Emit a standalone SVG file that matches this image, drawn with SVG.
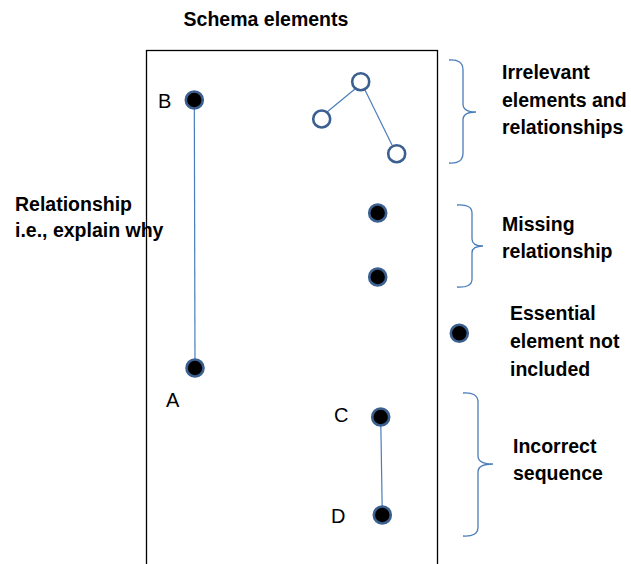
<svg xmlns="http://www.w3.org/2000/svg" width="631" height="564" viewBox="0 0 631 564">
<style>
.t{font-family:"Liberation Sans",Arial,sans-serif;font-weight:bold;font-size:19.5px;fill:#000}
.l{font-family:"Liberation Sans",Arial,sans-serif;font-size:20px;fill:#000}
.n{fill:#000;stroke:#3b6090;stroke-width:2.6}
.o{fill:#fff;stroke:#3b6090;stroke-width:2.6}
.e{stroke:#4a7ebb;stroke-width:1.2;fill:none}
.b{stroke:#4a7ebb;stroke-width:1.3;fill:none}
</style>
<rect width="631" height="564" fill="#fff"/>
<text class="t" x="266" y="26" text-anchor="middle">Schema elements</text>
<rect x="146.5" y="50.5" width="291" height="530" fill="none" stroke="#000" stroke-width="1.3"/>
<text class="t" x="15" y="211">Relationship</text>
<text class="t" x="15" y="237">i.e., explain why</text>
<g id="connectors">
<line class="e" x1="194.3" y1="100" x2="195" y2="368"/>
<line class="e" x1="327" y1="112" x2="355" y2="89"/>
<line class="e" x1="365" y1="90" x2="392" y2="145"/>
<line class="e" x1="380.7" y1="417" x2="382.3" y2="515"/>
</g>
<g id="nodeB"><circle class="n" cx="194.3" cy="100" r="8.5"/><text class="l" x="158" y="108">B</text></g>
<g id="nodeA"><circle class="n" cx="195" cy="368" r="8.5"/><text class="l" x="166" y="407">A</text></g>
<g id="irr1"><circle class="o" cx="360.7" cy="81.7" r="8.5"/></g>
<g id="irr2"><circle class="o" cx="321.7" cy="119" r="8.5"/></g>
<g id="irr3"><circle class="o" cx="396.7" cy="153.7" r="8.5"/></g>
<g id="miss1"><circle class="n" cx="377.7" cy="213" r="8.5"/></g>
<g id="miss2"><circle class="n" cx="377.7" cy="277" r="8.5"/></g>
<g id="essential"><circle class="n" cx="459.3" cy="333.3" r="8.5"/></g>
<g id="nodeC"><circle class="n" cx="380.7" cy="417" r="8.5"/><text class="l" x="334" y="422">C</text></g>
<g id="nodeD"><circle class="n" cx="382.3" cy="515" r="8.5"/><text class="l" x="331" y="523">D</text></g>
<g id="brace1"><path class="b" d="M449,60 Q463,59 463,70 L463,104 Q463,112 476,112 Q463,112 463,120 L463,153 Q463,164 449,163"/>
<text class="t" x="502" y="79">Irrelevant</text><text class="t" x="502" y="107">elements and</text><text class="t" x="502" y="134">relationships</text></g>
<g id="brace2"><path class="b" d="M457,205 Q472,204 472,213 L472,239 Q472,246 483,246 Q472,246 472,253 L472,279 Q472,288 457,287"/>
<text class="t" x="502" y="231">Missing</text><text class="t" x="502" y="258">relationship</text></g>
<g id="legend-essential"><text class="t" x="510" y="320">Essential</text><text class="t" x="510" y="348">element not</text><text class="t" x="510" y="376">included</text></g>
<g id="brace3"><path class="b" d="M463,393 Q478,392 478,402 L478,456 Q478,464 493,464 Q478,464 478,472 L478,527 Q478,537 463,536"/>
<text class="t" x="513" y="453">Incorrect</text><text class="t" x="513" y="480">sequence</text></g>
</svg>
